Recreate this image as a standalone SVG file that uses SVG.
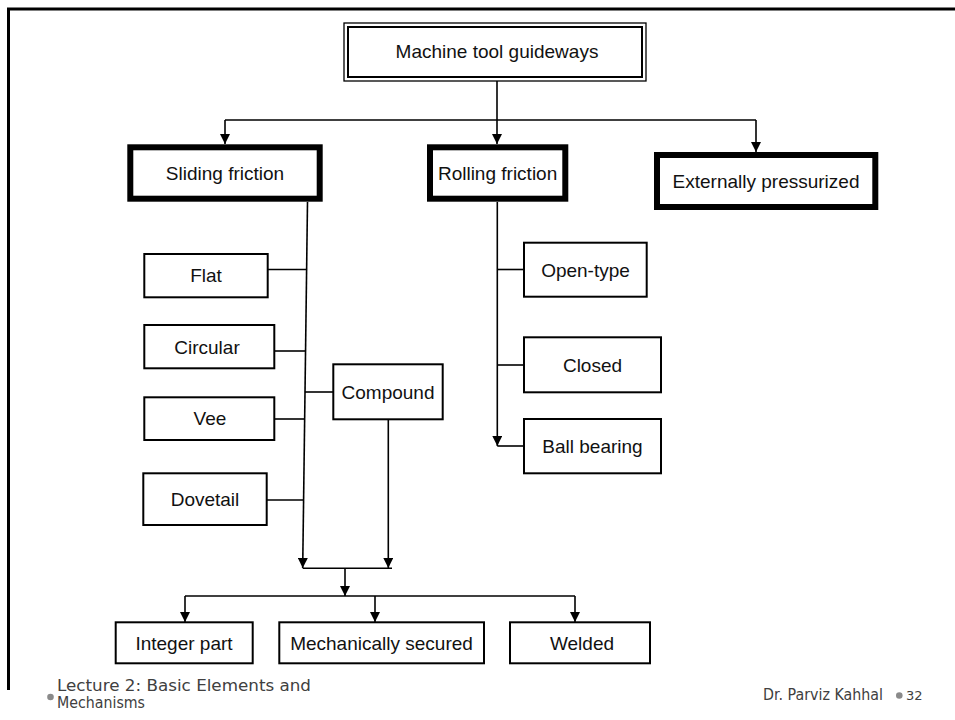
<svg xmlns="http://www.w3.org/2000/svg" width="955" height="720" viewBox="0 0 955 720">
<defs>
<marker id="arr" viewBox="0 0 10 10" refX="10" refY="5" markerWidth="10" markerHeight="10" markerUnits="userSpaceOnUse" orient="auto">
<path d="M0,0 L10,5 L0,10 Z" fill="#000"/>
</marker>
<style>
.box{fill:#fff;stroke:#000;stroke-width:2}
.thick{fill:#fff;stroke:#000;stroke-width:6}
.lbl{font-family:"Liberation Sans",Arial,sans-serif;font-size:19px;fill:#111;text-anchor:middle}
.ln{fill:none;stroke:#000;stroke-width:1.6}
.ft{font-family:"DejaVu Sans",sans-serif;font-size:15px;fill:#404040}
</style>
</defs>
<rect width="955" height="720" fill="#fff"/>
<g id="frame">
<path d="M8.5,690 V9 H955" fill="none" stroke="#000" stroke-width="3"/>
</g>
<g id="connectors">
<path class="ln" d="M497,81 V120"/>
<path class="ln" d="M225,120 H756"/>
<path class="ln" d="M225,120 V144" marker-end="url(#arr)"/>
<path class="ln" d="M497,120 V144" marker-end="url(#arr)"/>
<path class="ln" d="M756,120 V152" marker-end="url(#arr)"/>
<path class="ln" d="M307.5,202 L302.7,568" marker-end="url(#arr)"/>
<path class="ln" d="M268,269.5 H306.6"/>
<path class="ln" d="M274.5,351 H305.5"/>
<path class="ln" d="M305,392 H333"/>
<path class="ln" d="M274.5,419 H304.7"/>
<path class="ln" d="M267,500 H303.6"/>
<path class="ln" d="M388.3,419.5 V568" marker-end="url(#arr)"/>
<path class="ln" d="M302.7,568.3 H392"/>
<path class="ln" d="M345,568.3 V596" marker-end="url(#arr)"/>
<path class="ln" d="M185,596 H575"/>
<path class="ln" d="M185,596 V622" marker-end="url(#arr)"/>
<path class="ln" d="M375,596 V622" marker-end="url(#arr)"/>
<path class="ln" d="M575,596 V622" marker-end="url(#arr)"/>
<path class="ln" d="M497.3,202 V446" marker-end="url(#arr)"/>
<path class="ln" d="M497.3,269.5 H524"/>
<path class="ln" d="M497.3,365 H524"/>
<path class="ln" d="M497.3,446 H524"/>
</g>
<g id="n-root">
<rect x="344" y="23" width="302" height="58" fill="#fff" stroke="#000" stroke-width="1.3"/>
<rect x="348" y="27" width="294" height="50" fill="#fff" stroke="#000" stroke-width="2"/>
<text class="lbl" x="497" y="58">Machine tool guideways</text>
</g>
<g id="n-sliding">
<rect class="thick" x="130.3" y="147.3" width="189.4" height="51.4"/>
<text class="lbl" x="225" y="180">Sliding friction</text>
</g>
<g id="n-rolling">
<rect class="thick" x="430" y="147.3" width="135.3" height="51.4"/>
<text class="lbl" x="497.6" y="180">Rolling friction</text>
</g>
<g id="n-external">
<rect class="thick" x="657" y="155" width="218.3" height="52"/>
<text class="lbl" x="766" y="188">Externally pressurized</text>
</g>
<g id="n-flat">
<rect class="box" x="144.3" y="254" width="123.4" height="43.3"/>
<text class="lbl" x="206" y="282">Flat</text>
</g>
<g id="n-circular">
<rect class="box" x="144.3" y="325" width="130" height="43.3"/>
<text class="lbl" x="207" y="354">Circular</text>
</g>
<g id="n-vee">
<rect class="box" x="144.3" y="397.3" width="130" height="42.7"/>
<text class="lbl" x="210" y="425">Vee</text>
</g>
<g id="n-dovetail">
<rect class="box" x="143.3" y="473.3" width="123.4" height="51.7"/>
<text class="lbl" x="205" y="506">Dovetail</text>
</g>
<g id="n-compound">
<rect class="box" x="333.3" y="364.3" width="109.4" height="55"/>
<text class="lbl" x="388" y="399">Compound</text>
</g>
<g id="n-opentype">
<rect class="box" x="524" y="242.7" width="122.7" height="54"/>
<text class="lbl" x="585.5" y="277">Open-type</text>
</g>
<g id="n-closed">
<rect class="box" x="524" y="337.3" width="137" height="55"/>
<text class="lbl" x="592.5" y="372">Closed</text>
</g>
<g id="n-ballbearing">
<rect class="box" x="524" y="419" width="137" height="54.3"/>
<text class="lbl" x="592.5" y="453">Ball bearing</text>
</g>
<g id="n-integer">
<rect class="box" x="115.7" y="622.3" width="137" height="41"/>
<text class="lbl" x="184" y="650">Integer part</text>
</g>
<g id="n-mech">
<rect class="box" x="279.3" y="622.3" width="204.7" height="41"/>
<text class="lbl" x="381.5" y="650">Mechanically secured</text>
</g>
<g id="n-welded">
<rect class="box" x="510" y="622.3" width="140" height="41"/>
<text class="lbl" x="582" y="650">Welded</text>
</g>
<g id="footer">
<circle cx="50.5" cy="697" r="3.3" fill="#8a8a8a"/>
<text class="ft" x="57" y="691" textLength="254" lengthAdjust="spacingAndGlyphs">Lecture 2: Basic Elements and</text>
<text class="ft" x="57" y="708" textLength="88" lengthAdjust="spacingAndGlyphs">Mechanisms</text>
<text class="ft" x="763" y="700" textLength="120" lengthAdjust="spacingAndGlyphs">Dr. Parviz Kahhal</text>
<circle cx="899.3" cy="695.5" r="3.3" fill="#8a8a8a"/>
<text class="ft" x="906" y="700" style="font-size:13px">32</text>
</g>
</svg>
